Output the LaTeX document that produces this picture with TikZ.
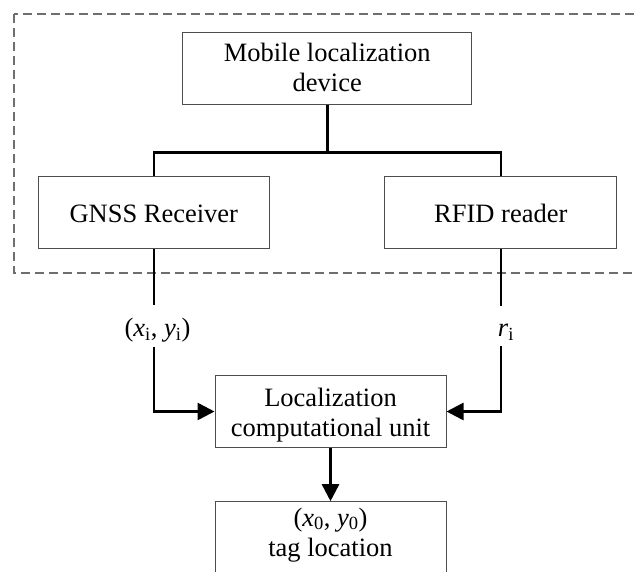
\documentclass[tikz,border=0pt]{standalone}
\usepackage{fontspec}
\setmainfont{Liberation Serif}
\usetikzlibrary{arrows.meta}
\definecolor{boxgray}{HTML}{4D4D4D}
\definecolor{dashgray}{HTML}{6E6E6E}
\begin{document}
\begin{tikzpicture}[x=1pt,y=-1pt,
  font=\fontsize{26.5}{30.5}\selectfont,
  box/.style={draw=boxgray, line width=1pt, inner sep=0pt, anchor=base, align=center},
  conn/.style={line width=2.6pt},
  arr/.style={conn, -{Triangle[length=17pt,width=17pt]}},
  lbl/.style={inner sep=0pt, anchor=base}]
\useasboundingbox (0,0) rectangle (634,571);
\clip (0,0) rectangle (634,571);
\draw[dashgray, line width=1.3pt, dash pattern=on 9pt off 5pt] (14,14) rectangle (660,273);

\node[box, minimum width=289pt, text height=59.7pt, text depth=12.3pt] (mobile) at (327.2,91.7) {Mobile localization\\device};
\node[box, minimum width=231pt, text height=45.3pt, text depth=26.7pt] (gnss) at (153.8,222) {GNSS Receiver};
\node[box, minimum width=231.7pt, text height=45.3pt, text depth=26.7pt] (rfid) at (500.8,222) {RFID reader};
\node[box, minimum width=231pt, text height=61pt, text depth=10.6pt] (comp) at (330.5,436.7) {Localization\\computational unit};
\node[box, minimum width=231pt, text height=54.8pt, text depth=17.5pt] (tag) at (330.5,556.5) {(\textit{x}\textsubscript{0}, \textit{y}\textsubscript{0})\\tag location};

\node[lbl, text height=31.8pt, text depth=9.9pt] (xl) at (157.5,336.8) {(\textit{x}\textsubscript{i}, \textit{y}\textsubscript{i})};
\node[lbl, text height=31pt, text depth=9.3pt] (rl) at (506,336.7) {\textit{r}\textsubscript{i}};

\coordinate (bus) at (327.2,152.7);
\draw[conn] (mobile.south) -- (bus);
\draw[conn] (gnss.north) |- (bus) -| (rfid.north);
\draw[conn] (gnss.south) -- (gnss.south |- xl.north);
\draw[arr] (gnss.south |- xl.south) |- (comp.west);
\draw[conn] (rfid.south) -- (rfid.south |- rl.north);
\draw[arr] (rfid.south |- rl.south) |- (comp.east);
\draw[arr] (comp.south) -- (tag.north);
\end{tikzpicture}
\end{document}
